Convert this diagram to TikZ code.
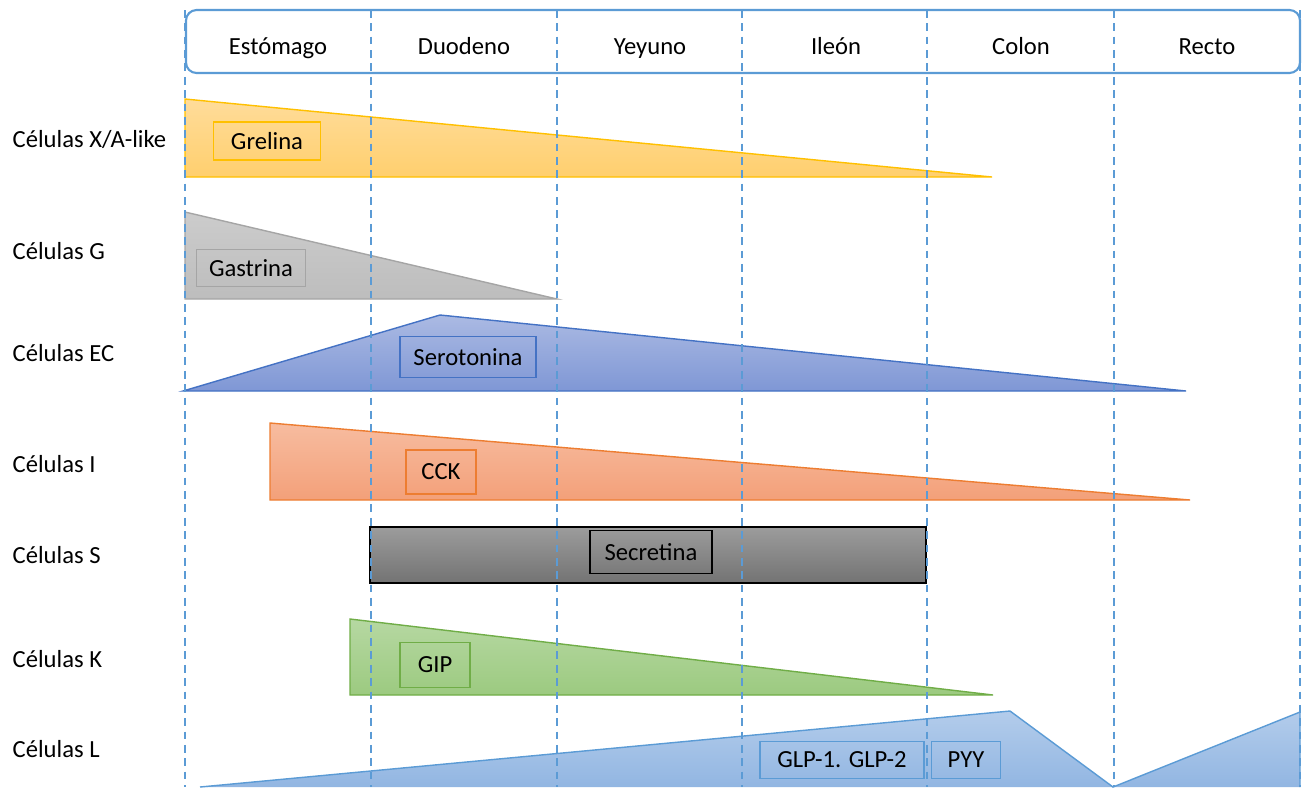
\documentclass[tikz,border=0pt]{standalone}
\usepackage{fontspec}
\setmainfont{Carlito}
\usepackage{xcolor}
\usepackage{tikz}
\usetikzlibrary{positioning}

\definecolor{lineblue}{HTML}{5B9BD5}
\definecolor{xaline}{HTML}{FFC000}
\definecolor{xatop}{HTML}{FFDC9A}
\definecolor{xabot}{HTML}{FFCF6E}
\definecolor{gline}{HTML}{A5A5A5}
\definecolor{gtop}{HTML}{CCCCCC}
\definecolor{gbot}{HTML}{BDBDBD}
\definecolor{ecline}{HTML}{4472C4}
\definecolor{ectop}{HTML}{ABBAE3}
\definecolor{ecbot}{HTML}{7F97D5}
\definecolor{iline}{HTML}{ED7D31}
\definecolor{itop}{HTML}{F7BCA0}
\definecolor{ibot}{HTML}{F3A079}
\definecolor{stop}{HTML}{9C9C9C}
\definecolor{sbot}{HTML}{737373}
\definecolor{kline}{HTML}{70AD47}
\definecolor{ktop}{HTML}{B6D8A2}
\definecolor{kbot}{HTML}{9CCA80}
\definecolor{ltop}{HTML}{B3CCEB}
\definecolor{lbot}{HTML}{92B6E2}

\tikzset{
  celltxt/.style={anchor=base west, inner sep=0pt, font=\fontsize{7}{8}\selectfont},
  segtxt/.style={anchor=base, inner sep=0pt, font=\fontsize{7}{8}\selectfont},
  hbox/.style={draw=#1, line width=0.5pt, inner sep=0pt, font=\fontsize{7}{8}\selectfont},
  guide/.style={lineblue, line width=0.4pt, dash pattern=on 2.2pt off 1.6pt}
}

\begin{document}
\begin{tikzpicture}[x=0.01cm, y=-0.01cm, line width=0.4pt]
  \useasboundingbox (0,0) rectangle (1306,787);

  % Header: gut segments
  \draw[lineblue, line width=0.6pt, rounded corners=3pt, fill=white] (186,10) rectangle (1300,73);
  \node[segtxt] (est) at (278,54) {Estómago};
  \node[segtxt] (duo) at (464,54) {Duodeno};
  \node[segtxt] (yey) at (650,54) {Yeyuno};
  \node[segtxt] (ile) at (836,54) {Ileón};
  \node[segtxt] (col) at (1021,54) {Colon};
  \node[segtxt] (rec) at (1207,54) {Recto};

  % Cell types on the left
  \node[celltxt] (cxa) at (12,147) {Células X/A-like};
  \node[celltxt] (cg)  at (12,259) {Células G};
  \node[celltxt] (cec) at (12,361) {Células EC};
  \node[celltxt] (ci)  at (12,472) {Células I};
  \node[celltxt] (cs)  at (12,563) {Células S};
  \node[celltxt] (ck)  at (12,667) {Células K};
  \node[celltxt] (cl)  at (12,757) {Células L};

  % Distribution profiles
  \shade[top color=xatop, bottom color=xabot] (185,99) -- (992,177) -- (185,177) -- cycle;
  \draw[xaline] (185,99) -- (992,177) -- (185,177) -- cycle;

  \shade[top color=gtop, bottom color=gbot] (185,212) -- (557,299) -- (185,299) -- cycle;
  \draw[gline] (185,212) -- (557,299) -- (185,299) -- cycle;

  \shade[top color=ectop, bottom color=ecbot] (183,391) -- (440,315) -- (1186,391) -- cycle;
  \draw[ecline] (183,391) -- (440,315) -- (1186,391) -- cycle;

  \shade[top color=itop, bottom color=ibot] (270,423) -- (1190,500) -- (270,500) -- cycle;
  \draw[iline] (270,423) -- (1190,500) -- (270,500) -- cycle;

  \shade[top color=stop, bottom color=sbot] (370,527) rectangle (926,583);
  \draw[black] (370,527) rectangle (926,583);

  \shade[top color=ktop, bottom color=kbot] (350,619) -- (993,695) -- (350,695) -- cycle;
  \draw[kline] (350,619) -- (993,695) -- (350,695) -- cycle;

  \shade[top color=ltop, bottom color=lbot] (200,787) -- (1010,711) -- (1113,787) -- (1300,712) -- (1300,787) -- cycle;
  \draw[lineblue] (200,787) -- (1010,711) -- (1113,787) -- (1300,712) -- (1300,787);

  % Segment guides
  \foreach \gx in {185,371,557,742,927,1114,1300}
    \draw[guide] (\gx,10) -- (\gx,787);

  % Hormones
  \node[hbox=xaline, minimum width=1.07cm, minimum height=0.38cm] (grel) at (267,141) {Grelina};
  \node[hbox=gline, minimum width=1.09cm, minimum height=0.37cm] (gast) at (251,268) {Gastrina};
  \node[hbox=ecline, minimum width=1.36cm, minimum height=0.41cm] (sero) at (468,357) {Serotonina};
  \node[hbox=iline, minimum width=0.70cm, minimum height=0.44cm] (cck) at (441,472) {CCK};
  \node[hbox=black, minimum width=1.22cm, minimum height=0.43cm] (secr) at (651,552) {Secretina};
  \node[hbox=kline, minimum width=0.70cm, minimum height=0.45cm] (gip) at (435,665) {GIP};
  \node[hbox=lineblue, minimum width=1.64cm, minimum height=0.37cm] (glp) at (842,760) {GLP-1. GLP-2};
  \node[hbox=lineblue, minimum width=0.69cm, minimum height=0.37cm] (pyy) at (966,760) {PYY};
\end{tikzpicture}
\end{document}
